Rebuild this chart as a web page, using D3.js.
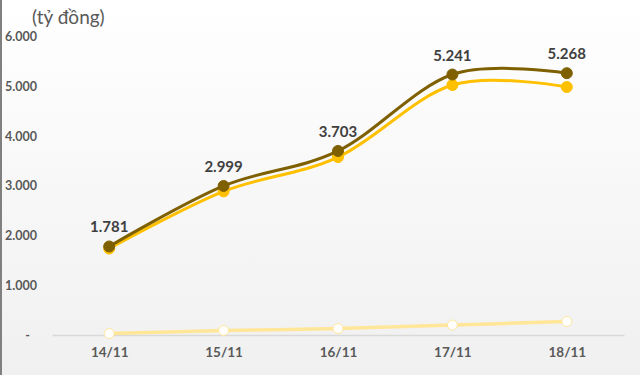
<!DOCTYPE html>
<html>
<head>
<meta charset="utf-8">
<script src="https://cdn.jsdelivr.net/npm/d3@7"></script>
<style>
  body { margin: 0; }
  svg { display: block; }
</style>
</head>
<body>
<script>
//chart data
var dates = ["14/11", "15/11", "16/11", "17/11", "18/11"];
var darkValues = [1781, 2999, 3703, 5241, 5268];
var goldValues = [1740, 2890, 3580, 5030, 4990];
var lightValues = [30, 90, 130, 200, 270];
var yTicks = [0, 1000, 2000, 3000, 4000, 5000, 6000];

(function(){
    var width = 640, height = 375;

    var svg = d3.select("body").append("svg")
        .attr("width", width)
        .attr("height", height);

    //background gradient
    var grad = svg.append("defs").append("linearGradient")
        .attr("id", "bg").attr("x1", 0).attr("y1", 0).attr("x2", 0).attr("y2", 1);
    grad.append("stop").attr("offset", "0%").attr("stop-color", "#ffffff");
    grad.append("stop").attr("offset", "100%").attr("stop-color", "#f0f0f0");
    svg.append("rect").attr("width", width).attr("height", height).attr("fill", "url(#bg)");
    svg.append("line").attr("x1", 1).attr("x2", 1).attr("y1", 0).attr("y2", height)
        .attr("stroke", "#808080").attr("stroke-width", 2);

    //unit label
    svg.append("text")
        .attr("x", 32).attr("y", 24)
        .attr("font-family", "Lato, 'Open Sans', sans-serif")
        .attr("font-size", 19)
        .attr("fill", "#595959")
        .text("(tỷ đồng)");

    //scales
    var x = d3.scalePoint().domain(dates).range([52, 624]).padding(0.5);
    var y = d3.scaleLinear().domain([0, 6000]).range([335, 36.8]);

    var fmt = d3.formatLocale({decimal: ",", thousands: ".", grouping: [3], currency: ["", ""]}).format(",d");

    //y axis labels
    var yAxis = svg.append("g")
        .attr("transform", "translate(37,0)")
        .call(d3.axisLeft(y).tickValues(yTicks).tickSize(0).tickPadding(0)
            .tickFormat(function(d){ return d === 0 ? "-" : fmt(d); }));
    yAxis.select(".domain").remove();
    yAxis.selectAll("text")
        .attr("font-family", "Lato, 'Open Sans', sans-serif")
        .attr("font-weight", "bold")
        .attr("font-size", 12.5)
        .attr("fill", "#595959")
        .attr("dx", function(d){ return d === 0 ? -7 : 0; });

    //x axis
    var xAxis = svg.append("g")
        .attr("transform", "translate(0,335)")
        .call(d3.axisBottom(x).tickSize(0).tickPadding(12));
    xAxis.select(".domain").attr("stroke", "#d9d9d9").attr("stroke-width", 1.5);
    xAxis.selectAll("text")
        .attr("font-family", "Lato, 'Open Sans', sans-serif")
        .attr("font-weight", "bold")
        .attr("font-size", 13.5)
        .attr("fill", "#595959");

    var line = d3.line()
        .x(function(d, i){ return x(dates[i]); })
        .y(function(d){ return y(d); })
        .curve(d3.curveCardinal.tension(0));

    function drawSeries(values, color, dotFill, width, r){
        svg.append("path")
            .datum(values)
            .attr("d", line)
            .attr("fill", "none")
            .attr("stroke", color)
            .attr("stroke-width", width);
        svg.selectAll(null)
            .data(values)
            .enter()
            .append("circle")
            .attr("cx", function(d, i){ return x(dates[i]); })
            .attr("cy", function(d){ return y(d); })
            .attr("r", r)
            .attr("fill", dotFill)
            .attr("stroke", color)
            .attr("stroke-width", 1);
    }

    drawSeries(lightValues, "#ffe699", "#ffffff", 3.5, 5);
    drawSeries(goldValues, "#ffc000", "#ffc000", 3, 5.5);
    drawSeries(darkValues, "#7f6000", "#7f6000", 3, 5.5);

    //data labels for dark series
    svg.selectAll(".lbl")
        .data(darkValues)
        .enter()
        .append("text")
        .attr("class", "lbl")
        .attr("x", function(d, i){ return x(dates[i]); })
        .attr("y", function(d){ return y(d) - 14; })
        .attr("text-anchor", "middle")
        .attr("font-family", "Lato, 'Open Sans', sans-serif")
        .attr("font-weight", "bold")
        .attr("font-size", 15)
        .attr("fill", "#404040")
        .text(function(d){ return fmt(d); });
})();
</script>
</body>
</html>
